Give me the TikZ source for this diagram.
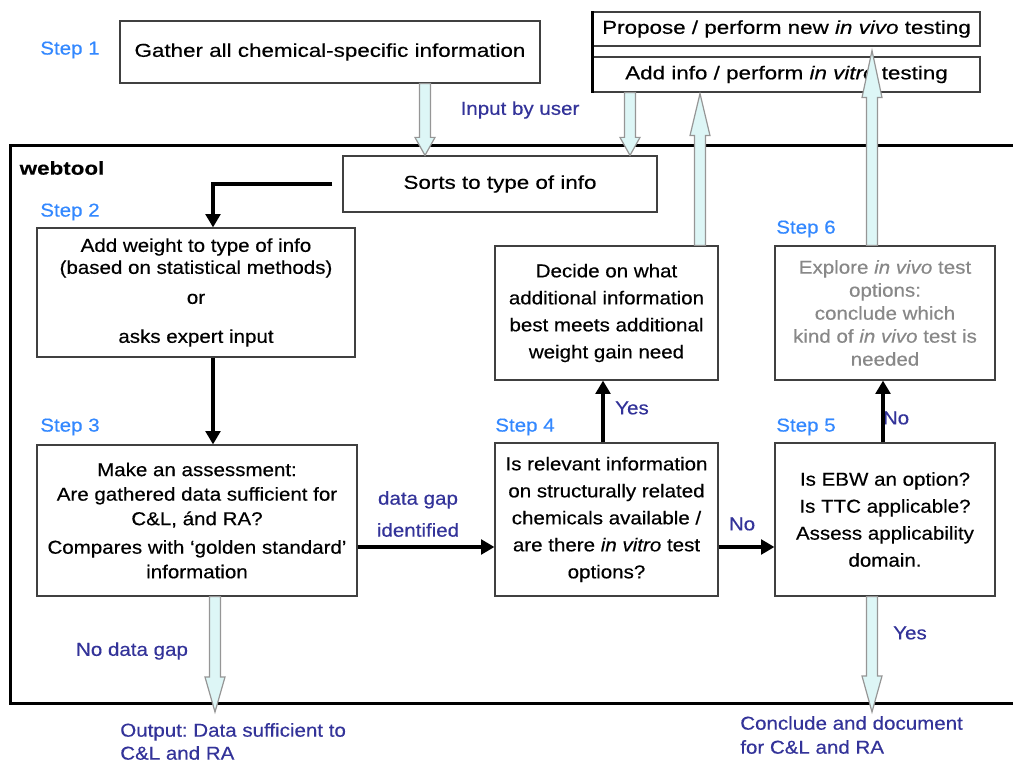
\documentclass[tikz,border=0pt]{standalone}
\usepackage{fontspec}
\setmainfont{Liberation Sans}[FakeStretch=1.2,FakeBold=0.4]
\newfontfamily\lblfont{Liberation Sans}[FakeStretch=1.1,FakeBold=0.4]
\usetikzlibrary{arrows.meta,calc}
\frenchspacing
\newdimen\pxu \pxu=0.75pt
\definecolor{stepblue}{RGB}{51,136,255}
\definecolor{lblblue}{RGB}{51,51,153}
\definecolor{hfill}{RGB}{221,246,246}
\definecolor{hdraw}{RGB}{150,150,150}
\definecolor{greytext}{RGB}{136,136,136}
\newcommand\hollowarrow[3]{%
  \draw[hollow] let \p1=#1, \p2=#2, \n1={(\y2<\y1)?1:-1} in
    ({\x1-5.5*\pxu},\y1) -- ({\x1-5.5*\pxu},{\y2+\n1*#3*\pxu})
    -- ({\x1-10*\pxu},{\y2+\n1*#3*\pxu}) -- (\x1,\y2)
    -- ({\x1+10*\pxu},{\y2+\n1*#3*\pxu}) -- ({\x1+5.5*\pxu},{\y2+\n1*#3*\pxu})
    -- ({\x1+5.5*\pxu},\y1) -- cycle;}
\begin{document}
\frenchspacing
\begin{tikzpicture}[x=0.75pt,y=-0.75pt,
  box/.style={draw=black!75, line width=0.9pt, fill=white, align=center, inner sep=0pt,
    font=\fontsize{14}{#1}\selectfont},
  box/.default=17,
  nbox/.style={box, font=\lblfont\fontsize{14}{#1}\selectfont},
  nbox/.default=17,
  steplbl/.style={font=\lblfont\fontsize{14}{17}\selectfont, text=stepblue, inner sep=0pt},
  lbl/.style={font=\lblfont\fontsize{14}{17}\selectfont, text=lblblue, inner sep=0pt},
  blk/.style={line width=3pt, -{Triangle[length=10pt,width=11pt]}},
  hollow/.style={draw=hdraw, fill=hfill, line width=0.9pt},
  frame/.style={line width=2.25pt}
]
\useasboundingbox (0,0) rectangle (1013,762);
\clip (0,0) rectangle (1013,762);

% webtool frame
\draw[frame] (10,146) rectangle (1030,703);
\node[font=\bfseries\fontsize{14}{17}\selectfont, inner sep=0pt] (webtool) at (62,168) {webtool};

% boxes
\node[box, minimum width=420\pxu, minimum height=62\pxu] (box1) at (330,52) {Gather all chemical-specific information};
\node[box, minimum width=387\pxu, minimum height=34\pxu] (prop) at (786.5,29) {Propose / perform new \textit{in vivo} testing};
\node[box, minimum width=387\pxu, minimum height=35\pxu] (addinfo) at (786.5,74.5) {Add info / perform \textit{in vitro} testing};
\draw[line width=2.25pt] (prop.north west) -- (addinfo.south west);
\node[box, minimum width=314\pxu, minimum height=56\pxu] (sorts) at (500,184) {Sorts to type of info};
\node[nbox=16.5, minimum width=318\pxu, minimum height=129\pxu] (box2) at (196,292.5)
  {Add weight to type of info\\(based on statistical methods)\\[6pt]or\\[12.75pt]asks expert input};
\node[nbox=18.4, minimum width=320\pxu, minimum height=151\pxu] (box3) at (197,520.5)
  {Make an assessment:\\Are gathered data sufficient for\\C\&L, ánd RA?\\[3pt]Compares with ‘golden standard’\\information};
\node[nbox=20.25, minimum width=223\pxu, minimum height=153\pxu] (box4) at (606.5,519.5)
  {Is relevant information\\on structurally related\\chemicals available /\\are there \textit{in vitro} test\\options?};
\node[nbox=20.25, minimum width=223\pxu, minimum height=134\pxu] (decide) at (606.5,313)
  {Decide on what\\additional information\\best meets additional\\weight gain need};
\node[nbox=20.25, minimum width=220\pxu, minimum height=153\pxu] (box5) at (885,519.5)
  {Is EBW an option?\\Is TTC applicable?\\Assess applicability\\domain.};
\node[nbox=17.25, minimum width=220\pxu, minimum height=134\pxu, text=greytext] (box6) at (885,313)
  {Explore \textit{in vivo} test\\options:\\conclude which\\kind of \textit{in vivo} test is\\needed};

% step labels
\node[steplbl] (s1) at (70,50) {Step 1};
\node[steplbl] (s2) at (70,212) {Step 2};
\node[steplbl] (s3) at (70,427) {Step 3};
\node[steplbl] (s4) at (525,427) {Step 4};
\node[steplbl] (s5) at (806,427) {Step 5};
\node[steplbl] (s6) at (806,229) {Step 6};

% other labels
\node[lbl] (input) at (520,110) {Input by user};
\node[lbl] (yes4) at (632,408) {Yes};
\node[lbl] (no5) at (896,418) {No};
\node[lbl] (no4) at (742,524) {No};
\node[lbl, align=center, font=\lblfont\fontsize{14}{24}\selectfont] (gap) at (418,514) {data gap\\identified};
\node[lbl] (nogap) at (132,651) {No data gap};
\node[lbl] (yes5) at (910,633) {Yes};
\node[lbl, anchor=west, align=left, font=\lblfont\fontsize{14}{17.25}\selectfont] (outl) at (120,741.5) {Output: Data sufficient to\\C\&L and RA};
\node[lbl, anchor=west, align=left, font=\lblfont\fontsize{14}{18}\selectfont] (outr) at (740,735) {Conclude and document\\for C\&L and RA};

\coordinate (end1) at (215,712);
\coordinate (end2) at (872,712);

% black arrows
\draw[blk] ($(sorts.west)+(-10,0)$) -| ($(box2.north)+(17,0)$);
\draw[blk] ($(box2.south)+(17,0)$) -- ($(box3.north)+(16,0)$);
\draw[blk] ($(box3.east)+(0,26.5)$) -- ($(box4.west)+(0,27.5)$);
\draw[blk] ($(box4.east)+(0,27.5)$) -- ($(box5.west)+(0,27.5)$);
\draw[blk] ($(box4.north)+(-3.5,0)$) -- ($(decide.south)+(-3.5,0)$);
\draw[blk] ($(box5.north)+(-2,0)$) -- ($(box6.south)+(-2,0)$);

% hollow arrows
\hollowarrow{($(box1.south)+(95,0)$)}{(sorts.north)}{18}
\hollowarrow{($(addinfo.south)+(-156.5,0)$)}{(sorts.north)}{18}
\hollowarrow{($(decide.north)+(93.5,0)$)}{($(addinfo.south)+(0,1)$)}{42}
\hollowarrow{($(box6.north)+(-13,0)$)}{($(prop.south)+(0,4)$)}{47}
\hollowarrow{($(box3.south)+(18,0)$)}{(end1)}{35}
\hollowarrow{($(box5.south)+(-13,0)$)}{(end2)}{36}
\end{tikzpicture}
\end{document}
